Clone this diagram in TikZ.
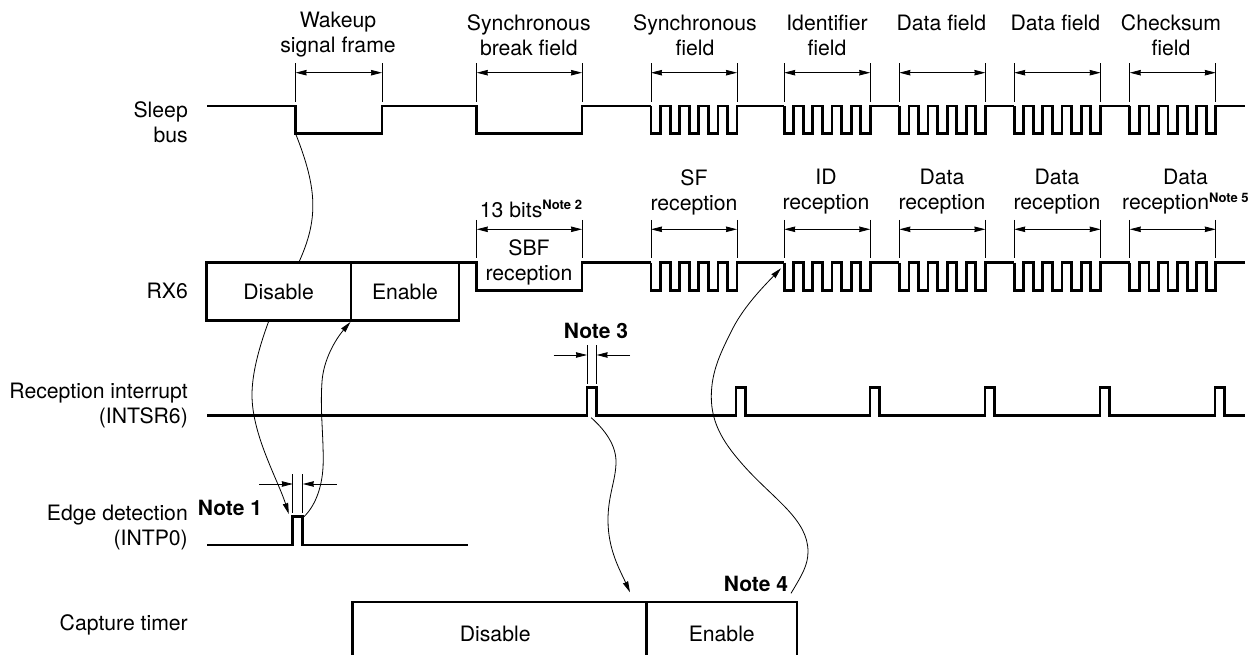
\documentclass[tikz,border=0pt]{standalone}
\usepackage{fontspec}
\setmainfont{TeX Gyre Heros}
\usepackage{xcolor}
\usepackage{tikz}
\usetikzlibrary{arrows.meta,positioning,calc}
\newcommand{\notesup}[1]{\raisebox{7.5pt}{\fontsize{13}{13}\selectfont\bfseries #1}}

\begin{document}
\begin{tikzpicture}[
    x=1pt,y=-1pt,
    txt/.style={inner sep=0pt,align=center,font=\fontsize{21.2}{25}\selectfont},
    rowlabel/.style={txt,anchor=east,align=right},
    note/.style={txt,font=\fontsize{21}{25}\selectfont\bfseries},
    tbox/.style={rectangle,draw=black,line width=2.5pt,inner sep=0pt,align=center,font=\fontsize{21.2}{25}\selectfont},
    wave/.style={line width=2.8pt,line join=miter,line cap=butt},
    ext/.style={line width=0.8pt},
    dimarrow/.style={line width=0.8pt,<->,>={Stealth[length=11pt,width=5.5pt,inset=0.5pt]}},
    dimin/.style={line width=0.8pt,->,>={Stealth[length=11pt,width=5.5pt,inset=0.5pt]}},
    curve/.style={line width=0.8pt},
    curvearrow/.style={line width=0.8pt,-{Stealth[length=11pt,width=5.5pt,inset=0.5pt]}}
]
\useasboundingbox (0,0) rectangle (1254,655);
\clip (0,0) rectangle (1254,655);

% row labels
\node[rowlabel] (sleep) at (188,122.5) {Sleep\\bus};
\node[rowlabel] (rxsix) at (188,290.7) {RX6};
\node[rowlabel] (intsr) at (188,405.5) {Reception interrupt\\(INTSR6)};
\node[rowlabel] (intp) at (188,527.5) {Edge detection\\(INTP0)};
\node[rowlabel] (capture) at (188,625) {Capture timer};

% field names
\node[txt] (wakeup) at (338,35) {Wakeup\\signal frame};
\node[txt] (sbf) at (528.8,35) {Synchronous\\break field};
\node[txt] (sf) at (695,35) {Synchronous\\field};
\node[txt] (idf) at (827,35) {Identifier\\field};
\node[txt] (dfa) at (941.4,22.7) {Data field};
\node[txt] (dfb) at (1055.4,22.7) {Data field};
\node[txt] (csum) at (1171,35) {Checksum\\field};

% reception names
\node[txt] (bits) at (531,209) {13 bits\notesup{Note 2}};
\node[txt] (sbfrx) at (529,262) {SBF\\reception};
\node[txt] (sfrx) at (694,192) {SF\\reception};
\node[txt] (idrx) at (826,192) {ID\\reception};
\node[txt] (dra) at (942,192) {Data\\reception};
\node[txt] (drb) at (1057,192) {Data\\reception};
\node[txt] (drc) at (1185.4,192) {Data\\reception\notesup{Note 5}};

% notes
\node[note] (noteone) at (230,508) {Note 1};
\node[note] (notethree) at (596,331) {Note 3};
\node[note] (notefour) at (756,584) {Note 4};

% boxes
\node[tbox,minimum width=144.4pt,minimum height=57.6pt] (rxdis) at (278.6,291.5) {Disable};
\node[tbox,minimum width=108.4pt,minimum height=57.6pt] (rxen) at (405,291.5) {Enable};
\node[tbox,minimum width=293.9pt,minimum height=64pt] (capdis) at (499.35,634) {};
\node[tbox,minimum width=150.9pt,minimum height=64pt] (capen) at (721.75,634) {Enable};
\node[txt] (capdistxt) at (495.2,634) {Disable};

% sleep bus and RX6
\draw[wave] (207,106) -- (295.6,106) -- (295.6,133.7) -- (382,133.7) -- (382,106) -- (476.8,106) -- (476.8,133.7) -- (582,133.7) -- (582,106) -- (651,106);
\draw[wave] (459.2,262.7) -- (476.8,262.7) -- (476.8,290.3) -- (582,290.3) -- (582,262.7) -- (651,262.7);
\foreach \y/\d in {106/27.7,262.7/27.6} {
  \foreach \s/\n in {651/784.2,784.2/899.4,899.4/1014.2,1014.2/1129.8,1129.8/1245} {
    \draw[wave] (\s,\y) -- ++(0,\d) \foreach \k in {1,2,3,4} { -- ++(9.56,0) -- ++(0,-\d) -- ++(9.56,0) -- ++(0,\d) } -- ++(9.56,0) -- ++(0,-\d) -- (\n,\y);
  }
}

% field widths
\foreach \a/\b in {295.6/382,476.8/582,651/737,784.2/870.2,899.4/985.4,1014.2/1100.6,1129.8/1215.8} {
  \coordinate (fl) at (\a,72.7);
  \coordinate (fr) at (\b,72.7);
  \draw[ext] (\a,63.3) -- (\a,101.7);
  \draw[ext] (\b,63.3) -- (\b,101.7);
  \draw[dimarrow] (fl) -- (fr);
}
\foreach \a/\b in {476.8/582,651/737,784.2/870.2,899.4/985.4,1014.2/1100.6,1129.8/1215.8} {
  \coordinate (rl) at (\a,229.3);
  \coordinate (rr) at (\b,229.3);
  \draw[ext] (\a,220) -- (\a,258.3);
  \draw[ext] (\b,220) -- (\b,258.3);
  \draw[dimarrow] (rl) -- (rr);
}

% reception interrupt
\draw[wave] (207,415.7) -- (587,415.7)
  \foreach \p/\q in {587/736,736/870,870/985,985/1100,1100/1215,1215/1245} { -- (\p,415.7) -- (\p,387.3) -- ++(9.6,0) -- ++(0,28.4) -- (\q,415.7) };

% edge detection
\draw[wave] (207,545) -- (292.8,545) -- (292.8,516.7) -- (302.8,516.7) -- (302.8,545) -- (468,545);

% pulse widths
\draw[ext] (292.8,474.3) -- (292.8,513.3);
\draw[ext] (302.8,474.3) -- (302.8,513.3);
\coordinate (el) at (259,484);
\coordinate (ela) at (292.8,484);
\coordinate (er) at (336.8,484);
\coordinate (era) at (302.8,484);
\draw[dimin] (el) -- (ela);
\draw[dimin] (er) -- (era);
\draw[ext] (587,345) -- (587,384.3);
\draw[ext] (596.6,345) -- (596.6,384.3);
\coordinate (il) at (553.6,355);
\coordinate (ila) at (587,355);
\coordinate (ir) at (630,355);
\coordinate (ira) at (596.6,355);
\draw[dimin] (il) -- (ila);
\draw[dimin] (ir) -- (ira);

% cause and effect
\coordinate (wakefall) at (295.6,133.7);
\coordinate (rxtop) at (299,262);
\coordinate (rxbot) at (268.8,321);
\coordinate (edgetop) at (288.8,514);
\coordinate (edgeout) at (304,516.7);
\coordinate (rxsplit) at (350.4,322);
\coordinate (intout) at (591.2,417.7);
\coordinate (capin) at (630,592.3);
\coordinate (capout) at (791,593.3);
\coordinate (idstart) at (781,268.3);
\draw[curve] (wakefall) .. controls (318,190) and (318,220) .. (rxtop);
\draw[curvearrow] (rxbot) .. controls (258,350) and (252,375) .. (252,395) .. controls (252,435) and (278,480) .. (edgetop);
\draw[curvearrow] (edgeout) .. controls (316,505) and (323,485) .. (323.2,461.7) .. controls (323.5,435) and (320,410) .. (322,381.7) .. controls (323.5,360) and (335,340) .. (rxsplit);
\draw[curvearrow] (intout) .. controls (605,430) and (616,445) .. (616,461.7) .. controls (616,480) and (608,495) .. (608,520) .. controls (608,550) and (620,570) .. (capin);
\draw[curvearrow] (capout) .. controls (802,575) and (808,565) .. (808,551.7) .. controls (808,520) and (775,500) .. (745.8,468) .. controls (725,445) and (711.3,425) .. (711.3,396.7) .. controls (711.3,370) and (722,350) .. (733,328) .. controls (745,305) and (765,285) .. (idstart);
\end{tikzpicture}
\end{document}
